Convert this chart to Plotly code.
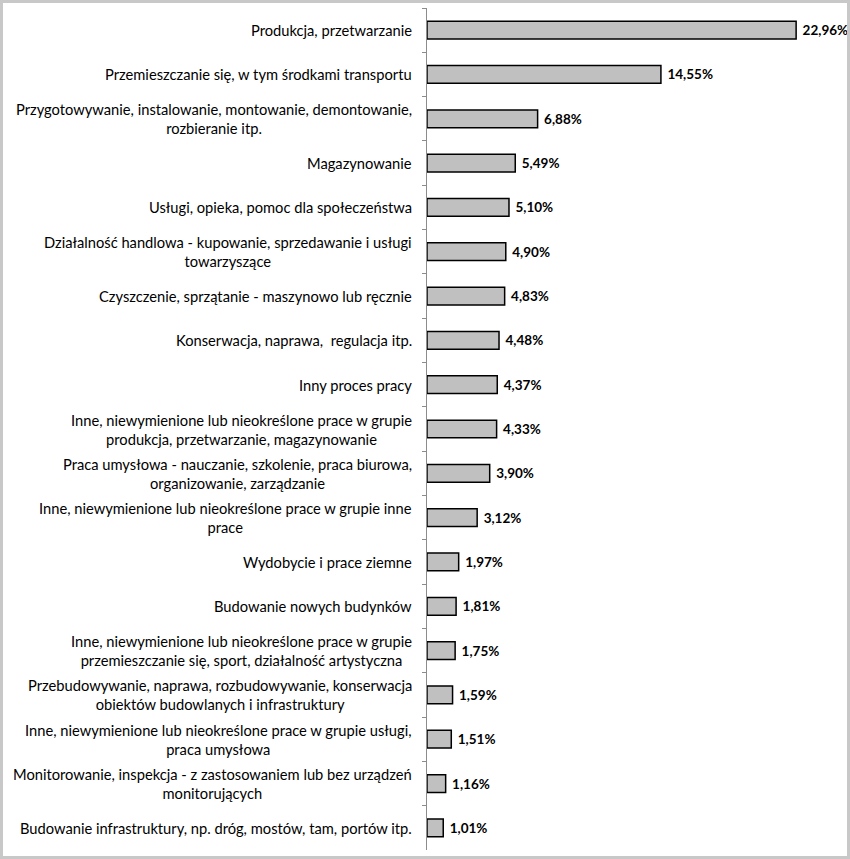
import plotly.graph_objects as go

categories = [
    "Produkcja, przetwarzanie",
    "Przemieszczanie się, w tym środkami transportu",
    "Przygotowywanie, instalowanie, montowanie, demontowanie,<br>rozbieranie itp.",
    "Magazynowanie",
    "Usługi, opieka, pomoc dla społeczeństwa",
    "Działalność handlowa - kupowanie, sprzedawanie i usługi<br>towarzyszące",
    "Czyszczenie, sprzątanie - maszynowo lub ręcznie",
    "Konserwacja, naprawa,  regulacja itp.",
    "Inny proces pracy",
    "Inne, niewymienione lub nieokreślone prace w grupie<br>produkcja, przetwarzanie, magazynowanie",
    "Praca umysłowa - nauczanie, szkolenie, praca biurowa,<br>organizowanie, zarządzanie",
    "Inne, niewymienione lub nieokreślone prace w grupie inne<br>prace",
    "Wydobycie i prace ziemne",
    "Budowanie nowych budynków",
    "Inne, niewymienione lub nieokreślone prace w grupie<br>przemieszczanie się, sport, działalność artystyczna",
    "Przebudowywanie, naprawa, rozbudowywanie, konserwacja<br>obiektów budowlanych i infrastruktury",
    "Inne, niewymienione lub nieokreślone prace w grupie usługi,<br>praca umysłowa",
    "Monitorowanie, inspekcja - z zastosowaniem lub bez urządzeń<br>monitorujących",
    "Budowanie infrastruktury, np. dróg, mostów, tam, portów itp.",
]
values = [22.96, 14.55, 6.88, 5.49, 5.10, 4.90, 4.83, 4.48, 4.37, 4.33,
          3.90, 3.12, 1.97, 1.81, 1.75, 1.59, 1.51, 1.16, 1.01]

ids = [f"c{i}" for i in range(len(categories))]
FONT = "Lato"

fig = go.Figure(go.Bar(
    x=values, y=ids, orientation="h",
    marker=dict(color="#c0c0c0", line=dict(color="#000000", width=1.5)),
    width=0.4,
    texttemplate="\u00a0<b>%{x:.2f}%</b>", textposition="outside",
    textfont=dict(family=FONT, size=13.5, color="#000000"),
    cliponaxis=False,
))

for cid, lab in zip(ids, categories):
    fig.add_annotation(
        x=0, y=cid, xref="x", yref="y", text=lab, showarrow=False,
        xanchor="right", align="center", xshift=-13,
        font=dict(family=FONT, size=14.7, color="#000000"),
    )

fig.update_layout(
    width=850, height=859,
    margin=dict(l=427, r=5, t=8, b=9),
    paper_bgcolor="white", plot_bgcolor="white",
    separators=", ",
    showlegend=False,
    xaxis=dict(range=[0, 26], visible=False),
    yaxis=dict(autorange="reversed", showticklabels=False, showline=True,
               linecolor="#8c8c8c", linewidth=1, ticks="outside", ticklen=4,
               tickcolor="#8c8c8c", tickson="boundaries", showgrid=False,
               zeroline=False),
    shapes=[dict(type="rect", xref="paper", yref="paper",
                 x0=-425.5/418, x1=1 + 3.5/418, y0=-7.5/842, y1=1 + 6.5/842,
                 line=dict(color="#c8c8c8", width=3), layer="above")],
)

fig.write_html("out.html", config={"displayModeBar": False},
               post_script="document.body.style.margin='0';document.body.style.overflow='hidden';")
